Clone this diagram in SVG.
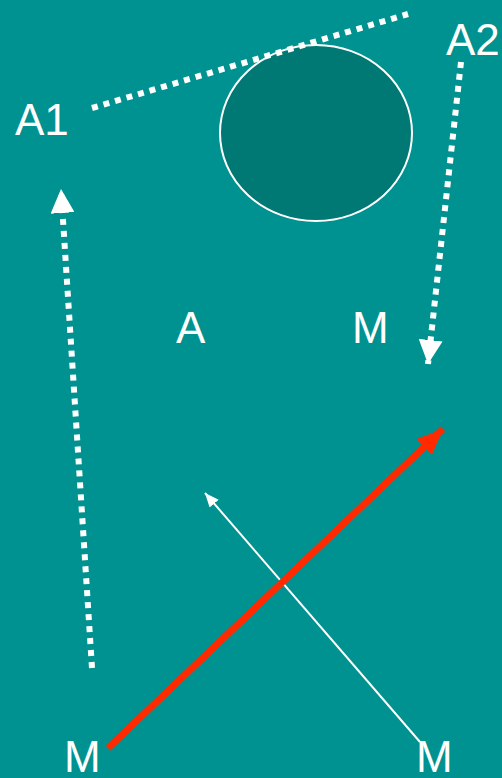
<svg xmlns="http://www.w3.org/2000/svg" width="502" height="778" viewBox="0 0 502 778">
<style>
.t{font-family:"Liberation Sans",Arial,sans-serif;font-size:44px;fill:#ffffff}
.dot{stroke:#ffffff;stroke-width:6;stroke-dasharray:6 6;fill:none}
</style>
<defs>
<marker id="wh" markerUnits="userSpaceOnUse" markerWidth="24" markerHeight="24" viewBox="0 0 24 24" refX="24" refY="12" orient="auto">
<path d="M0,0 L24,12 L0,24 Z" fill="#ffffff"/>
</marker>
<marker id="sm" markerUnits="userSpaceOnUse" markerWidth="14" markerHeight="12" viewBox="0 0 14 12" refX="14" refY="6" orient="auto">
<path d="M0,0 L14,6 L0,12 Z" fill="#ffffff"/>
</marker>
<marker id="rd" markerUnits="userSpaceOnUse" markerWidth="26" markerHeight="22" viewBox="0 0 26 22" refX="26" refY="11" orient="auto">
<path d="M0,0 L26,11 L0,22 Z" fill="#ff2a00"/>
</marker>
</defs>
<rect width="502" height="778" fill="#009290"/>
<g id="circle">
<ellipse cx="316" cy="133" rx="96" ry="88" fill="#007874" stroke="#ffffff" stroke-width="2"/>
</g>
<g id="connectors">
<line class="dot" x1="92" y1="108" x2="408" y2="14"/>
<line class="dot" x1="461" y1="62" x2="428" y2="364" marker-end="url(#wh)"/>
<line class="dot" x1="92" y1="668" x2="61" y2="189" marker-end="url(#wh)"/>
<line x1="420" y1="742" x2="205" y2="493" stroke="#ffffff" stroke-width="2" marker-end="url(#sm)"/>
<line x1="108" y1="748" x2="443" y2="429" stroke="#ff2a00" stroke-width="7" marker-end="url(#rd)"/>
</g>
<g id="label-A1"><text class="t" x="15" y="135">A1</text></g>
<g id="label-A2"><text class="t" x="446" y="55">A2</text></g>
<g id="label-A"><text class="t" x="176" y="343">A</text></g>
<g id="label-M-mid"><text class="t" x="352" y="343">M</text></g>
<g id="label-M-left"><text class="t" x="64" y="772">M</text></g>
<g id="label-M-right"><text class="t" x="416" y="772">M</text></g>
</svg>
